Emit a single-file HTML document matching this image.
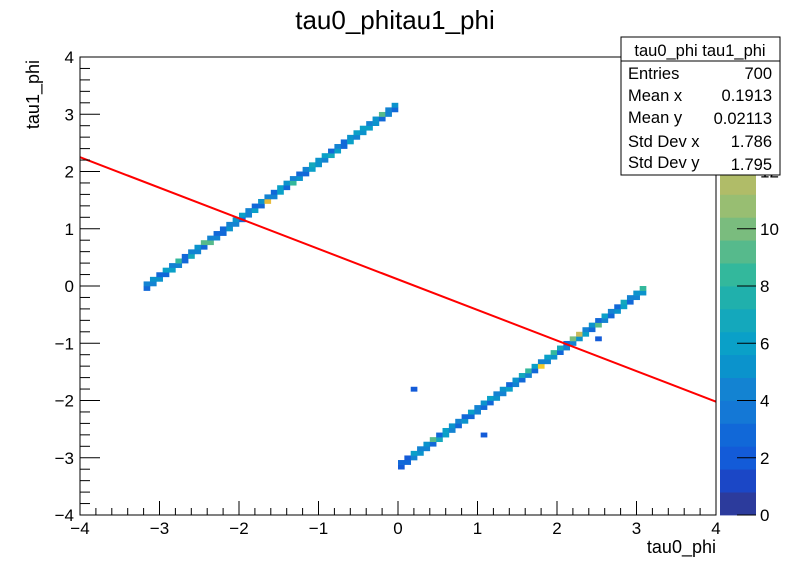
<!DOCTYPE html>
<html><head><meta charset="utf-8"><style>
body{margin:0;background:#fff;}
svg{display:block;font-family:"Liberation Sans",Arial,sans-serif;}
</style></head><body>
<svg id="c" width="796" height="572" viewBox="0 0 796 572">
<rect width="796" height="572" fill="#fff"/>
<text x="395" y="29" font-size="26" text-anchor="middle">tau0_phitau1_phi</text>
<g id="cells"></g>
<line id="fit" stroke="#ff0000" stroke-width="2"/>
<rect x="80" y="57" width="636" height="458" fill="none" stroke="#000" stroke-width="1"/>
<g id="axes"></g>
<text x="716" y="553" font-size="18" text-anchor="end">tau0_phi</text>
<text transform="translate(39,60) rotate(-90)" font-size="18" text-anchor="end">tau1_phi</text>
<g id="palette"></g>
<g>
<rect x="621" y="37" width="159" height="138" fill="#fff" stroke="#000"/>
<line x1="621" y1="61" x2="780" y2="61" stroke="#000"/>
<text x="700" y="56" font-size="16.5" text-anchor="middle">tau0_phi tau1_phi</text>
<text x="628" y="79" font-size="16.5">Entries</text><text x="772" y="79" font-size="16.5" text-anchor="end">700</text>
<text x="628" y="101" font-size="16.5">Mean x</text><text x="772" y="101" font-size="16.5" text-anchor="end">0.1913</text>
<text x="628" y="123" font-size="16.5">Mean y</text><text x="772" y="124" font-size="16.5" text-anchor="end">0.02113</text>
<text x="628" y="147" font-size="16.5">Std Dev x</text><text x="772" y="147" font-size="16.5" text-anchor="end">1.786</text>
<text x="628" y="168" font-size="16.5">Std Dev y</text><text x="772" y="170" font-size="16.5" text-anchor="end">1.795</text>
</g>
</svg>
<script>
const xTicks=[-4,-3,-2,-1,0,1,2,3,4];
const yTicks=[-4,-3,-2,-1,0,1,2,3,4];
const zTicks=[0,2,4,6,8,10,12];
const upperStartBin=10;
const upperLo=[3,4,5,3,6,4,3,7,4,3,9,4,3,5,4,3,4,6,3,14,4,6,3,8,5,3,6,5,4,7,6,3,6,4,5,6,5,3,4,3];
const upperHi=[4,5,3,6,4,8,3,4,5,9,4,3,3,4,5,6,4,3,5,4,3,6,5,4,3,4,7,5,6,3,4,3,5,6,6,4,5,9,4,5];
const lowerStartBin=50;
const lowerLo=[2,3,4,5,4,3,7,6,4,3,5,3,4,3,3,5,4,6,4,3,4,3,15,4,5,3,4,4,5,6,3,9,4,3,5,6,3,4,5];
const lowerHi=[3,2,6,4,5,9,3,6,5,4,3,6,4,5,6,4,5,3,5,7,8,6,4,6,8,7,3,10,12,4,5,3,6,4,3,7,4,5,8];
const outX=[0.18,1.07,2.5];
const outY=[-1.8,-2.6,-0.9];
const outC=[2,2,2];
const fitX=[-4,4];
const fitY=[2.25,-2.02];
const zMax=16;
const colors=['#2c3b9c','#1b47c6','#135bd8','#1168d8','#1478d6','#1383d2','#0b93cc','#0aa0c8','#14a8bc','#20b0ac','#33b89c','#56ba8c','#7abc7e','#98be72','#b0bc68','#c8ba5c','#d8b84f','#e8bc3c','#f4cc28','#f8e018'];
const NS='http://www.w3.org/2000/svg';
const X=v=>80+(v+4)*636/8, Y=v=>515-(v+4)*458/8;
const Z=v=>515-v*458/zMax;
const bw=0.08;
function mk(t,a,p){const e=document.createElementNS(NS,t);for(const k in a)e.setAttribute(k,a[k]);p.appendChild(e);return e;}
function col(c){return colors[Math.min(19,Math.floor(c/zMax*20))];}
const cells=document.getElementById('cells');
function cell(xb,yb,c){
  if(c<=0)return;
  const r=mk('rect',{x:X(-4+xb*bw),y:Y(-4+(yb+1)*bw),width:636*bw/8+0.3,height:458*bw/8+0.3,fill:col(c)},cells);
  
  
}
function line(start,lo,hi,off){
  lo.forEach((c,k)=>{
    const i=start+k; const y=-4+i*bw+off+0.001;
    const j=Math.floor((y+4)/bw);
    cell(i,j,c); cell(i,j+1,hi[k]);
  });
}
line(upperStartBin,upperLo,upperHi,Math.PI);
line(lowerStartBin,lowerLo,lowerHi,-Math.PI);
outX.forEach((x,k)=>cell(Math.floor((x+4)/bw),Math.floor((outY[k]+4)/bw),outC[k]));
const f=document.getElementById('fit');
f.setAttribute('x1',X(fitX[0]));f.setAttribute('y1',Y(fitY[0]));f.setAttribute('x2',X(fitX[1]));f.setAttribute('y2',Y(fitY[1]));
const ax=document.getElementById('axes');
for(let v=-4;v<=4.001;v+=0.2){
  const major=Math.abs(v-Math.round(v))<1e-6;
  const t=mk('line',{x1:X(v),x2:X(v),y1:515,y2:515-(major?14:7),stroke:'#000'},ax);
  
  
  const u=mk('line',{x1:80,x2:80+(major?20:10),y1:Y(v),y2:Y(v),stroke:'#000'},ax);
  
  
}
xTicks.forEach(v=>{const t=mk('text',{x:X(v),y:534,'font-size':17,'text-anchor':'middle'},ax);t.textContent=v<0?'\u2212'+(-v):v;
  
  });
yTicks.forEach(v=>{const t=mk('text',{x:74,y:Y(v)+6,'font-size':17,'text-anchor':'end'},ax);t.textContent=v<0?'\u2212'+(-v):v;
  
  });
const pal=document.getElementById('palette');
colors.forEach((c,k)=>{const r=mk('rect',{x:720,y:Z((k+1)*zMax/20),width:36,height:458/20+0.4,fill:c},pal);
  
  });
zTicks.forEach(v=>{mk('line',{x1:737,x2:756,y1:Z(v),y2:Z(v),stroke:'#000'},pal);
  const t=mk('text',{x:760,y:Z(v)+6,'font-size':17},pal);t.textContent=v;
  
  });
</script>
</body></html>
